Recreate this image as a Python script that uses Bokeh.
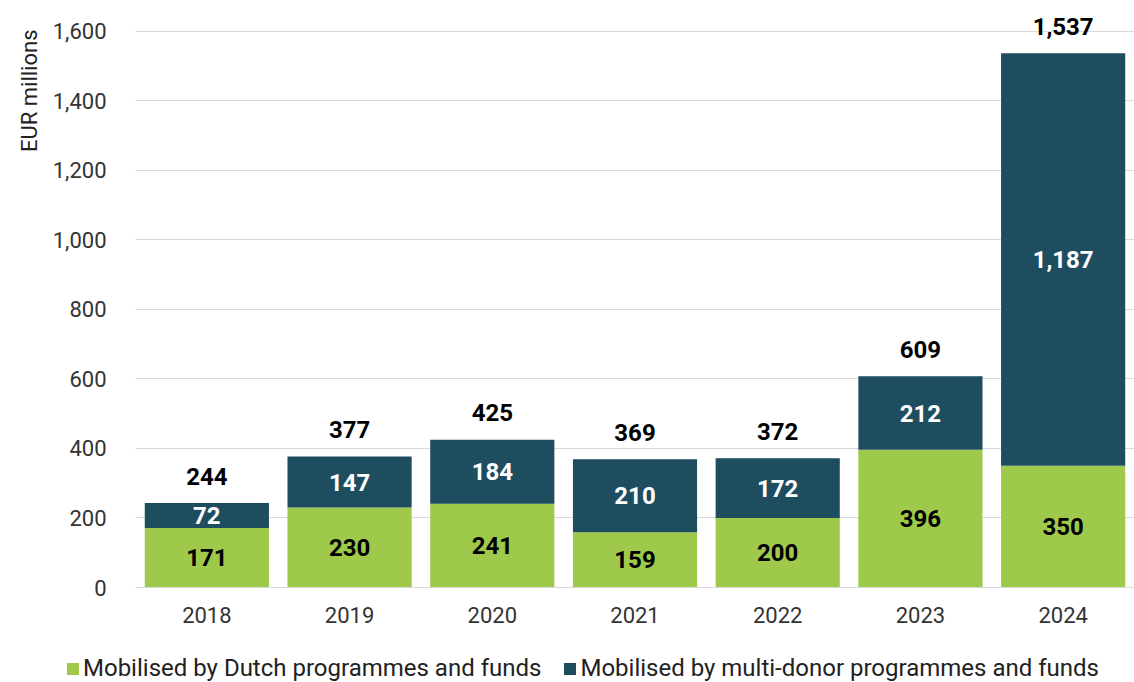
from bokeh.plotting import figure
from bokeh.layouts import column
from bokeh.models import ColumnDataSource, NumeralTickFormatter, FixedTicker, Range1d, Title, Div
from bokeh.core.properties import value
from bokeh.embed import file_html
from bokeh.resources import INLINE

years = ["2018", "2019", "2020", "2021", "2022", "2023", "2024"]
dutch = [171, 230, 241, 159, 200, 396, 350]
multi = [72, 147, 184, 210, 172, 212, 1187]
totals = [244, 377, 425, 369, 372, 609, 1537]
y_ticks = [0, 200, 400, 600, 800, 1000, 1200, 1400, 1600]
series_names = ["Mobilised by Dutch programmes and funds",
                "Mobilised by multi-donor programmes and funds"]

GREEN = "#9fc94a"
DARK = "#1e4d5f"
FONT = "Roboto"

src = ColumnDataSource(dict(
    year=years, dutch=dutch, multi=multi, totals=totals,
    dutch_mid=[d / 2 for d in dutch],
    multi_mid=[d + m / 2 for d, m in zip(dutch, multi)],
    top=[d + m for d, m in zip(dutch, multi)],
    dutch_lbl=[f"{v:,}" for v in dutch],
    multi_lbl=[f"{v:,}" for v in multi],
    tot_lbl=[f"{v:,}" for v in totals],
))

p = figure(x_range=years, frame_width=999, frame_height=570, output_backend="svg",
           toolbar_location=None, min_border_left=135, min_border_right=0,
           min_border_top=17, min_border_bottom=50)
p.y_range = Range1d(0, 1640)

r = p.vbar_stack(["dutch", "multi"], x="year", width=0.87, source=src,
                 color=[GREEN, DARK], line_color=None)

p.text(x="year", y="dutch_mid", text="dutch_lbl", source=src,
       text_align="center", text_baseline="middle", text_font=value(FONT),
       text_font_style="bold", text_font_size="24px", text_color="#000000")
p.text(x="year", y="multi_mid", text="multi_lbl", source=src,
       text_align="center", text_baseline="middle", text_font=value(FONT),
       text_font_style="bold", text_font_size="24px", text_color="#ffffff")
p.text(x="year", y="top", text="tot_lbl", source=src, y_offset=-27,
       text_align="center", text_baseline="middle", text_font=value(FONT),
       text_font_style="bold", text_font_size="24px", text_color="#000000")

p.outline_line_color = None
p.xgrid.grid_line_color = None
p.ygrid.grid_line_color = "#d9d9d9"
p.ygrid.grid_line_width = 1

p.yaxis.ticker = FixedTicker(ticks=y_ticks)
p.yaxis.formatter = NumeralTickFormatter(format="0,0")
p.yaxis.axis_line_color = None
p.yaxis.major_tick_line_color = None
p.yaxis.minor_tick_line_color = None
p.yaxis.major_label_standoff = 23

ylab = Title(text="EUR millions", align="right", text_font=FONT,
             text_font_style="normal", text_font_size="22px",
             text_color="#222222", standoff=16, offset=12)
p.add_layout(ylab, "left")

for ax in (p.xaxis, p.yaxis):
    ax.major_label_text_font = FONT
    ax.major_label_text_font_size = "22px"
    ax.major_label_text_color = "#333333"

p.xaxis.axis_line_color = "#d9d9d9"
p.xaxis.major_tick_line_color = None
p.xaxis.minor_tick_line_color = None
p.xaxis.major_tick_out = 0
p.xaxis.major_tick_in = 0
p.xaxis.major_label_standoff = 19

# legend strip (HTML) below the chart
def swatch(color, left):
    return (f'<span style="display:inline-block;width:12px;height:12px;'
            f'background:{color};margin-left:{left}px;margin-right:4px;"></span>')

legend_html = (
    f'<div style="display:flex;align-items:center;font-family:{FONT};'
    f'font-size:24px;color:#222222;padding-left:67px;padding-top:17px;'
    f'line-height:29px;white-space:nowrap;">'
    f'{swatch(GREEN, 0)}<span>{series_names[0]}</span>'
    f'{swatch(DARK, 23)}<span>{series_names[1]}</span>'
    f'</div>'
)
leg = Div(text=legend_html, width=1134, height=45, margin=(0, 0, 0, 0))

layout = column(p, leg, spacing=0)
open("out.html", "w").write(file_html(layout, INLINE))
